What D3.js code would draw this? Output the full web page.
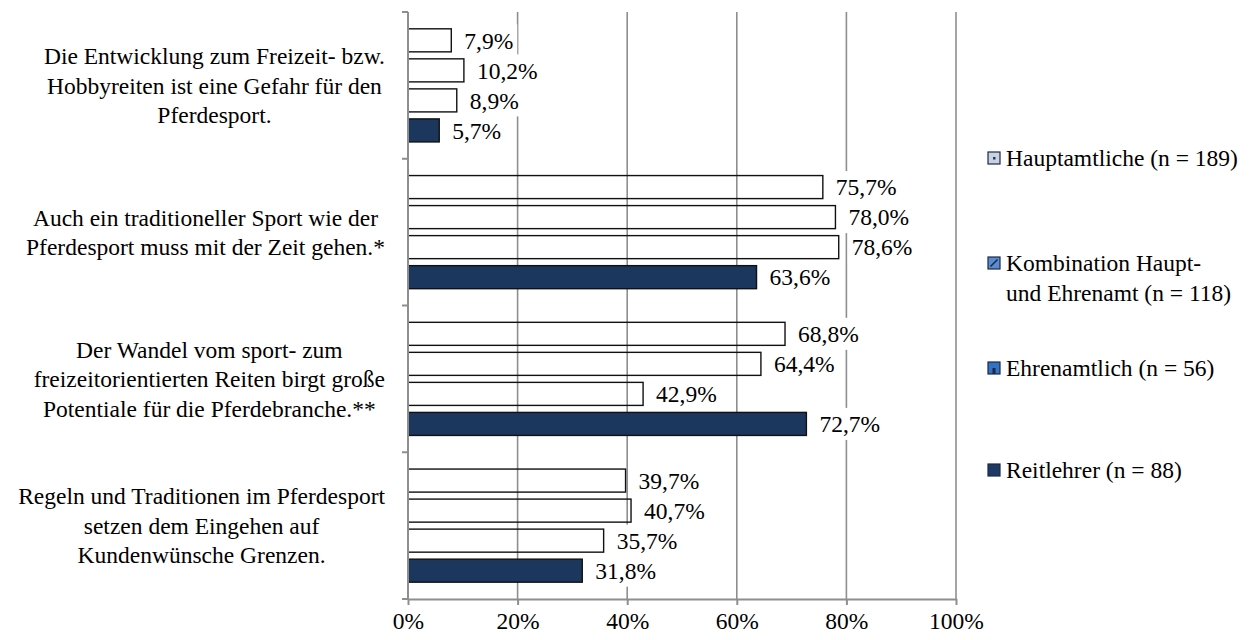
<!DOCTYPE html>
<html><head><meta charset="utf-8">
<script src="https://cdn.jsdelivr.net/npm/d3@7"></script>
<style>
html,body{margin:0;padding:0;background:#fff;}
</style></head>
<body>
<svg id="chart" width="1251" height="640"></svg>
<script>
const categoryLines = [
  ["Die Entwicklung zum Freizeit- bzw.", "Hobbyreiten ist eine Gefahr für den", "Pferdesport."],
  ["Auch ein traditioneller Sport wie der", "Pferdesport muss mit der Zeit gehen.*"],
  ["Der Wandel vom sport- zum", "freizeitorientierten Reiten birgt große", "Potentiale für die Pferdebranche.**"],
  ["Regeln und Traditionen im Pferdesport", "setzen dem Eingehen auf", "Kundenwünsche Grenzen."]
];
const seriesNames = ["Hauptamtliche (n = 189)", "Kombination Haupt- und Ehrenamt (n = 118)", "Ehrenamtlich (n = 56)", "Reitlehrer (n = 88)"];
const legendLines = [["Hauptamtliche (n = 189)"], ["Kombination Haupt-", "und Ehrenamt (n = 118)"], ["Ehrenamtlich (n = 56)"], ["Reitlehrer (n = 88)"]];
const hauptamtliche = [7.9, 75.7, 68.8, 39.7];
const kombination = [10.2, 78.0, 64.4, 40.7];
const ehrenamtlich = [8.9, 78.6, 42.9, 35.7];
const reitlehrer = [5.7, 63.6, 72.7, 31.8];
const xTicks = [0, 20, 40, 60, 80, 100];

const seriesValues = [hauptamtliche, kombination, ehrenamtlich, reitlehrer];
const barFill = ["none", "none", "none", "#1b375e"];
const legendFill = ["#c8d2e2", "#5b8ccf", "#3472c4", "#1d3a66"];

const FS = 23.5;
const FF = "'Liberation Serif'";
const svg = d3.select("#chart");
svg.append("rect").attr("width", 1251).attr("height", 640).attr("fill", "#fff");

const x = d3.scaleLinear().domain([0, 100]).range([408, 956]);
const y0 = d3.scaleBand().domain(d3.range(categoryLines.length)).range([12, 599]).padding(0);
const y1 = d3.scaleBand().domain(d3.range(seriesNames.length)).range([0, y0.bandwidth()]).paddingInner(0.233).paddingOuter(0.56);

function txt(sel) {
  return sel.style("font-family", FF).style("font-size", FS + "px").attr("fill", "#000");
}

// gridlines
svg.append("g").selectAll("line").data(xTicks.filter(t => t > 0)).join("line")
  .attr("x1", d => x(d)).attr("x2", d => x(d))
  .attr("y1", 12).attr("y2", 599)
  .attr("stroke", "#8e8e8e").attr("stroke-width", 1.6);

// bars
const rows = [];
categoryLines.forEach((c, ci) => seriesValues.forEach((vals, si) => rows.push({ci, si, v: vals[ci]})));

svg.append("g").selectAll("rect").data(rows).join("rect")
  .attr("x", x(0))
  .attr("y", d => y0(d.ci) + y1(d.si))
  .attr("width", d => x(d.v) - x(0))
  .attr("height", y1.bandwidth())
  .attr("fill", d => barFill[d.si])
  .attr("stroke", "#111").attr("stroke-width", 1.4);

// value labels with white boxes
const fmt = v => d3.format(".1f")(v).replace(".", ",") + "%";
const lg = svg.append("g");
rows.forEach(d => {
  const cy = y0(d.ci) + y1(d.si) + y1.bandwidth() / 2;
  const tx = x(d.v) + 13;
  const box = lg.append("rect").attr("fill", "#fff");
  const t = txt(lg.append("text")).attr("x", tx).attr("y", cy).attr("dy", "0.35em").text(fmt(d.v));
  const w = t.node().getComputedTextLength();
  box.attr("x", tx - 4).attr("width", w + 8).attr("y", cy - y1.step() / 2 - 1).attr("height", y1.step() + 2);
});

// x axis
const xAxis = d3.axisBottom(x).tickValues(xTicks).tickSize(6).tickSizeOuter(0).tickFormat(d => d + "%");
const gx = svg.append("g").attr("transform", "translate(0,599)").call(xAxis);
gx.attr("font-family", null).attr("font-size", null);
gx.select(".domain").attr("stroke", "#8e8e8e").attr("stroke-width", 2);
gx.selectAll(".tick line").attr("stroke", "#8e8e8e").attr("stroke-width", 2);
txt(gx.selectAll(".tick text")).attr("y", 13).attr("dy", "0.71em");

// y axis line with ticks at category boundaries
const bounds = categoryLines.map((c, i) => y0(i)).concat([y0.range()[1]]);
svg.append("line").attr("x1", x(0)).attr("x2", x(0)).attr("y1", 12).attr("y2", 599)
  .attr("stroke", "#8e8e8e").attr("stroke-width", 2);
svg.append("g").selectAll("line").data(bounds).join("line")
  .attr("x1", x(0) - 6).attr("x2", x(0)).attr("y1", d => d).attr("y2", d => d)
  .attr("stroke", "#8e8e8e").attr("stroke-width", 2);

// category labels
const LH = 29.5;
categoryLines.forEach((lines, ci) => {
  const cy = y0(ci) + y0.bandwidth() / 2;
  const g = svg.append("g");
  const texts = lines.map((l, li) => txt(g.append("text"))
    .attr("y", cy + (li - (lines.length - 1) / 2) * LH).attr("dy", "0.35em")
    .attr("text-anchor", "middle").text(l));
  const maxW = d3.max(texts, t => t.node().getComputedTextLength());
  const cx = 385 - maxW / 2;
  texts.forEach(t => t.attr("x", cx));
});

// legend
const legendY = [158, 263, 368, 470];
const leg = svg.append("g");
legendLines.forEach((lines, i) => {
  const cy = legendY[i];
  const mx = 988, my = cy - 6, ms = 12;
  leg.append("rect").attr("x", mx).attr("y", my).attr("width", ms).attr("height", ms)
    .attr("fill", legendFill[i]).attr("stroke", "#1a2a44").attr("stroke-width", 1.2);
  if (i === 0) {
    leg.append("rect").attr("x", mx + 5).attr("y", my + 5).attr("width", 2.5).attr("height", 2.5).attr("fill", "#2a3a5a");
  } else if (i === 1) {
    leg.append("line").attr("x1", mx + 2.5).attr("y1", my + ms - 2.5).attr("x2", mx + ms - 2.5).attr("y2", my + 2.5)
      .attr("stroke", "#1a2a44").attr("stroke-width", 1.6);
  } else if (i === 2) {
    leg.append("rect").attr("x", mx + 4.5).attr("y", my + 6).attr("width", 3).attr("height", 6).attr("fill", "#1a2a44");
  }
  lines.forEach((l, li) => txt(leg.append("text")).attr("x", 1006).attr("y", cy + li * 30).attr("dy", "0.35em").text(l));
});
</script>
</body></html>
